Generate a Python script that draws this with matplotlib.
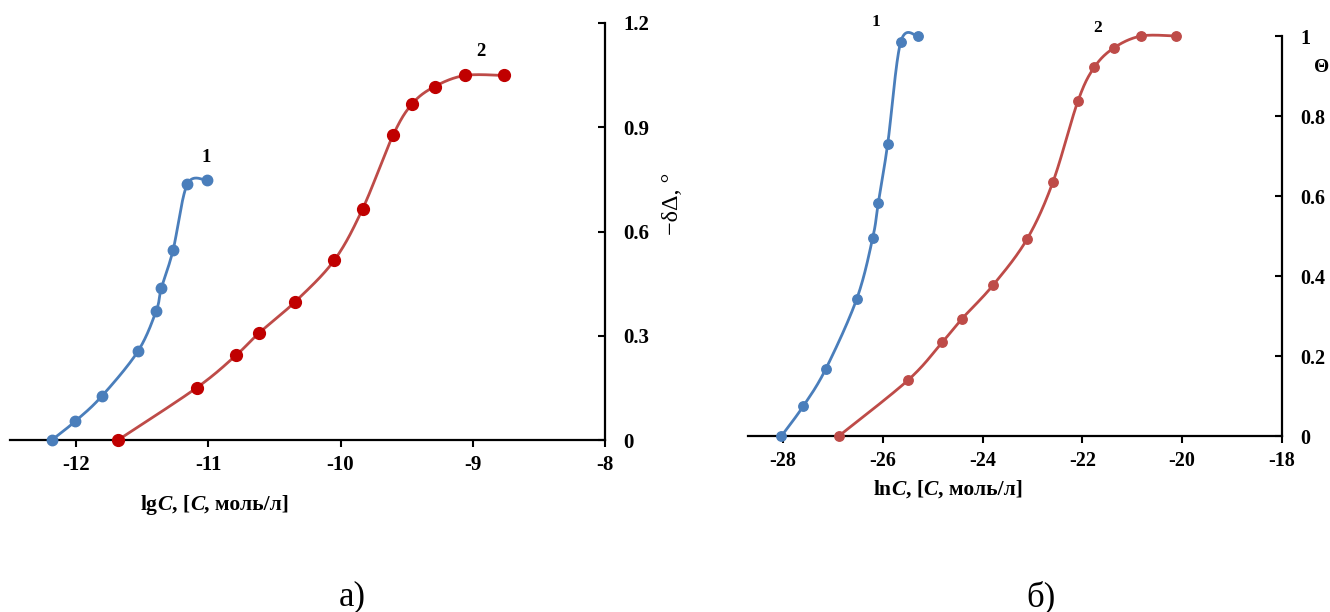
import numpy as np
import matplotlib
matplotlib.use("Agg")
import matplotlib.pyplot as plt
from matplotlib.offsetbox import TextArea, HPacker, AnnotationBbox

plt.rcParams['font.family'] = ['Liberation Serif', 'DejaVu Serif']

# а) lgC vs -dDelta
lg_x1 = [-12.184, -12.006, -11.806, -11.533, -11.394, -11.356, -11.267, -11.159, -11.010]
lg_y1 = [0.0, 0.054, 0.126, 0.255, 0.372, 0.436, 0.546, 0.736, 0.747]
lg_x2 = [-11.683, -11.089, -10.787, -10.619, -10.343, -10.048, -9.832, -9.603, -9.457, -9.289, -9.060, -8.762]
lg_y2 = [0.0, 0.150, 0.245, 0.307, 0.398, 0.517, 0.666, 0.877, 0.968, 1.017, 1.049, 1.049]

# б) lnC vs Theta
ln_x1 = [-28.03, -27.59, -27.14, -26.52, -26.20, -26.09, -25.90, -25.64, -25.30]
ln_y1 = [0.0, 0.075, 0.168, 0.343, 0.496, 0.582, 0.731, 0.985, 1.0]
ln_x2 = [-26.88, -25.49, -24.81, -24.42, -23.79, -23.11, -22.59, -22.09, -21.76, -21.36, -20.82, -20.13]
ln_y2 = [0.0, 0.140, 0.234, 0.292, 0.377, 0.492, 0.635, 0.837, 0.922, 0.971, 1.0, 1.0]

lg_ticks_x = [-12, -11, -10, -9, -8]
lg_ticks_y = [0, 0.3, 0.6, 0.9, 1.2]
lg_labels_y = ['0', '0.3', '0.6', '0.9', '1.2']
ln_ticks_x = [-28, -26, -24, -22, -20, -18]
ln_ticks_y = [0, 0.2, 0.4, 0.6, 0.8, 1.0]
ln_labels_y = ['0', '0.2', '0.4', '0.6', '0.8', '1']

BLUE = '#4A7EBB'
RED = '#BE4B48'
DARK_RED = '#C00000'
W, H = 1330, 612


def smooth(ax, x, y, n=40):
    # excel-like smoothed line, computed in screen space
    fig.canvas.draw()
    pts = ax.transData.transform(np.column_stack([x, y]))
    pts = np.vstack([pts[0], pts, pts[-1]])
    out = []
    t = np.linspace(0, 1, n)[:, None]
    for i in range(1, len(pts) - 2):
        p0, p1, p2, p3 = pts[i - 1], pts[i], pts[i + 1], pts[i + 2]
        c1 = p1 + (p2 - p0) / 6
        c2 = p2 - (p3 - p1) / 6
        out.append((1 - t) ** 3 * p1 + 3 * (1 - t) ** 2 * t * c1 + 3 * (1 - t) * t ** 2 * c2 + t ** 3 * p2)
    out = np.vstack(out)
    return ax.transData.inverted().transform(out)


def style_axes(ax, xticks, yticks, ylabels, ypad, fs):
    for s in ['top', 'left']:
        ax.spines[s].set_visible(False)
    for s in ['right', 'bottom']:
        ax.spines[s].set_linewidth(1.6)
    ax.yaxis.tick_right()
    ax.set_xticks(xticks)
    ax.set_xticklabels([str(v) for v in xticks])
    ax.set_yticks(yticks)
    ax.set_yticklabels(ylabels)
    ax.tick_params(axis='x', direction='out', length=5, width=1.5, pad=6)
    ax.tick_params(axis='y', direction='in', length=5, width=1.5, pad=ypad)
    for lab in ax.get_xticklabels() + ax.get_yticklabels():
        lab.set_fontweight('bold')
        lab.set_fontsize(fs)
    ax.patch.set_visible(False)


def axis_label(fig, head, pos):
    b = dict(size=15.5, weight='bold', color='black')
    bi = dict(size=15.5, weight='bold', style='italic', color='black')
    parts = [TextArea(head, textprops=b), TextArea('C', textprops=bi),
             TextArea(', [', textprops=b), TextArea('C', textprops=bi),
             TextArea(', моль/л]', textprops=b)]
    box = HPacker(children=parts, align='baseline', pad=0, sep=0)
    ab = AnnotationBbox(box, pos, xycoords='figure fraction', frameon=False,
                        box_alignment=(0.5, 0.5))
    fig.add_artist(ab)


fig = plt.figure(figsize=(13.3, 6.12), dpi=100)

ax1 = fig.add_axes([10 / W, 172 / H, 595 / W, 417 / H])
ax1.set_xlim(-12.5, -8)
ax1.set_ylim(0, 1.2)
style_axes(ax1, lg_ticks_x, lg_ticks_y, lg_labels_y, 13, 15)

ax2 = fig.add_axes([748 / W, 176 / H, 534 / W, 400 / H])
ax2.set_xlim(-28.7, -18)
ax2.set_ylim(0, 1.0)
style_axes(ax2, ln_ticks_x, ln_ticks_y, ln_labels_y, 13, 14.5)

# panel а)
c = smooth(ax1, lg_x1, lg_y1)
ax1.plot(c[:, 0], c[:, 1], color=BLUE, lw=2, clip_on=False, zorder=3)
ax1.plot(lg_x1, lg_y1, 'o', color=BLUE, ms=7.5, clip_on=False, zorder=4)
c = smooth(ax1, lg_x2, lg_y2)
ax1.plot(c[:, 0], c[:, 1], color=RED, lw=2, clip_on=False, zorder=3)
ax1.plot(lg_x2, lg_y2, 'o', color=DARK_RED, ms=8.5, clip_on=False, zorder=4)
ax1.text(-11.02, 0.812, '1', fontsize=13.5, fontweight='bold', ha='center', va='center')
ax1.text(-8.94, 1.117, '2', fontsize=13.5, fontweight='bold', ha='center', va='center')

# panel б)
c = smooth(ax2, ln_x1, ln_y1)
ax2.plot(c[:, 0], c[:, 1], color=BLUE, lw=2, clip_on=False, zorder=3)
ax2.plot(ln_x1, ln_y1, 'o', color=BLUE, ms=6.8, clip_on=False, zorder=4)
c = smooth(ax2, ln_x2, ln_y2)
ax2.plot(c[:, 0], c[:, 1], color=RED, lw=2, clip_on=False, zorder=3)
ax2.plot(ln_x2, ln_y2, 'o', color=RED, ms=6.8, clip_on=False, zorder=4)
ax2.text(-26.14, 1.035, '1', fontsize=12.5, fontweight='bold', ha='center', va='center')
ax2.text(-21.69, 1.02, '2', fontsize=12.5, fontweight='bold', ha='center', va='center')

axis_label(fig, 'lg', (215 / W, 1 - 505 / H))
axis_label(fig, 'ln', (948 / W, 1 - 490 / H))

fig.text(672 / W, 1 - 204 / H, '−δΔ, °', rotation=90, fontsize=17.5, ha='center', va='center')
fig.text(1322 / W, 1 - 68 / H, 'Θ', fontsize=14, fontweight='bold', ha='center', va='center')
fig.text(352 / W, 1 - 597 / H, 'а)', fontsize=25, ha='center', va='center')
fig.text(1041 / W, 1 - 597 / H, 'б)', fontsize=25, ha='center', va='center')

fig.savefig('out.png', dpi=100)
